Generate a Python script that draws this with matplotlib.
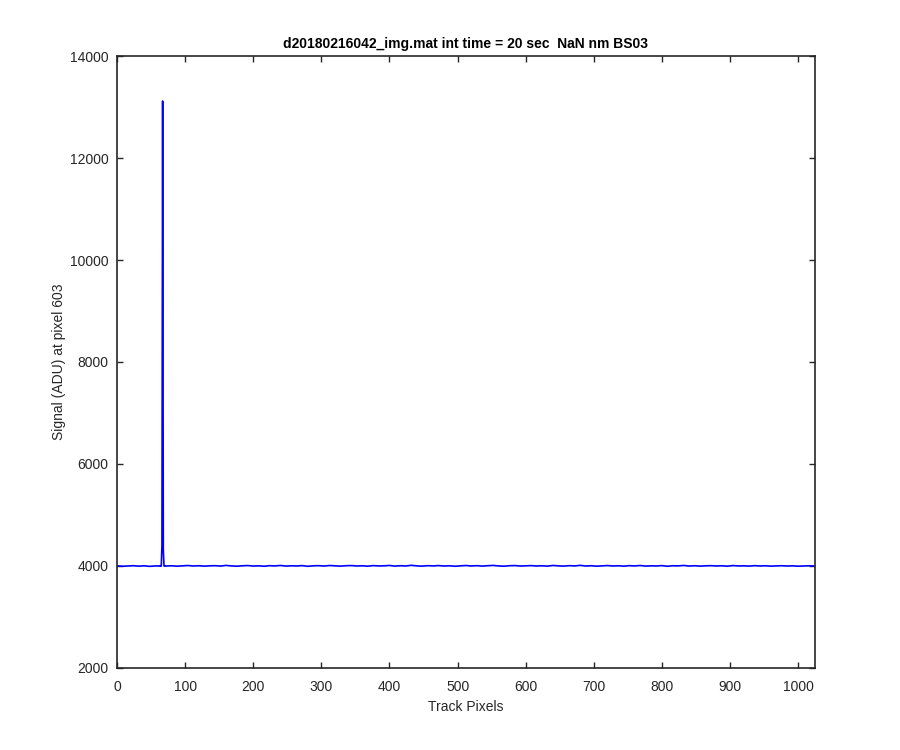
import numpy as np
import matplotlib.pyplot as plt

plt.rcParams['font.family'] = ['Liberation Sans', 'DejaVu Sans']

title = 'd20180216042_img.mat int time = 20 sec  NaN nm BS03'

# baseline read every 8 track pixels (plus the last pixel)
base_x = list(range(0, 1024, 8)) + [1023]
base_y = [3995, 3988, 3992, 3998, 3990, 3996, 3986, 3994, 4000,
          3992, 3997, 3989, 3995, 4002, 3993, 3998, 3990, 3996, 3999, 3991,
          4004, 3994, 3989, 3997, 4001, 3992, 3996, 3988, 3999, 3994,
          4003, 3991, 3997, 3993, 4000, 3987, 3996, 3999, 3992, 4002,
          3995, 3990, 3998, 4001, 3993, 3997, 3989, 4000, 3994, 3996,
          4003, 3991, 3998, 3993, 4006, 3995, 3990, 3999, 3994, 4001,
          3992, 3997, 3988, 3996, 4002, 3993, 3999, 3991, 3997, 4004,
          3994, 3989, 3998, 4001, 3992, 3996, 4000, 3993, 3997, 3990,
          4003, 3995, 3991, 3999, 3994, 4005, 3992, 3998, 3989, 3996,
          4001, 3993, 3997, 3990, 3999, 3994, 4002, 3991, 3996, 3993,
          4000, 3988, 3997, 3995, 4003, 3992, 3998, 3990, 3996, 3999,
          3993, 3997, 3989, 4001, 3994, 3996, 3991, 3999, 3993, 3997,
          3990, 3995, 3998, 3992, 3996, 3989, 3994, 3997, 3993]

# cosmic ray spike near pixel 67
spike_x = [63, 64, 65, 66, 67, 68, 69, 70, 71]
spike_y = [3992, 3996, 3990, 4400, 13120, 4300, 3994, 3989, 3997]

xs = base_x + spike_x
ys = base_y + spike_y
order = np.argsort(xs, kind='stable')
track = np.array(xs)[order]
signal = np.array(ys)[order]

fig = plt.figure(figsize=(9, 7.5), dpi=100)
ax = fig.add_axes([0.13, 0.11, 0.775, 0.815])
ax.plot(track, signal, color=(0, 0, 1), lw=1.2)
ax.set_xlim(0, 1024)
ax.set_ylim(2000, 14000)
ax.set_xticks(range(0, 1001, 100))
ax.set_yticks(range(2000, 14001, 2000))
ax.tick_params(direction='in', length=4.5, width=1.0, labelsize=10, colors='#262626',
               top=True, right=True)
ax.tick_params(axis='x', pad=9)
ax.tick_params(axis='y', pad=6)
for s in ax.spines.values():
    s.set_color('#262626')
    s.set_linewidth(1.2)
ax.set_xlabel('Track Pixels', fontsize=10, color='#262626', labelpad=4)
ax.set_ylabel('Signal (ADU) at pixel 603', fontsize=10, color='#262626', labelpad=3)
ax.set_title(title, fontsize=10, fontweight='bold', pad=6)

fig.savefig('out.png', dpi=100)
